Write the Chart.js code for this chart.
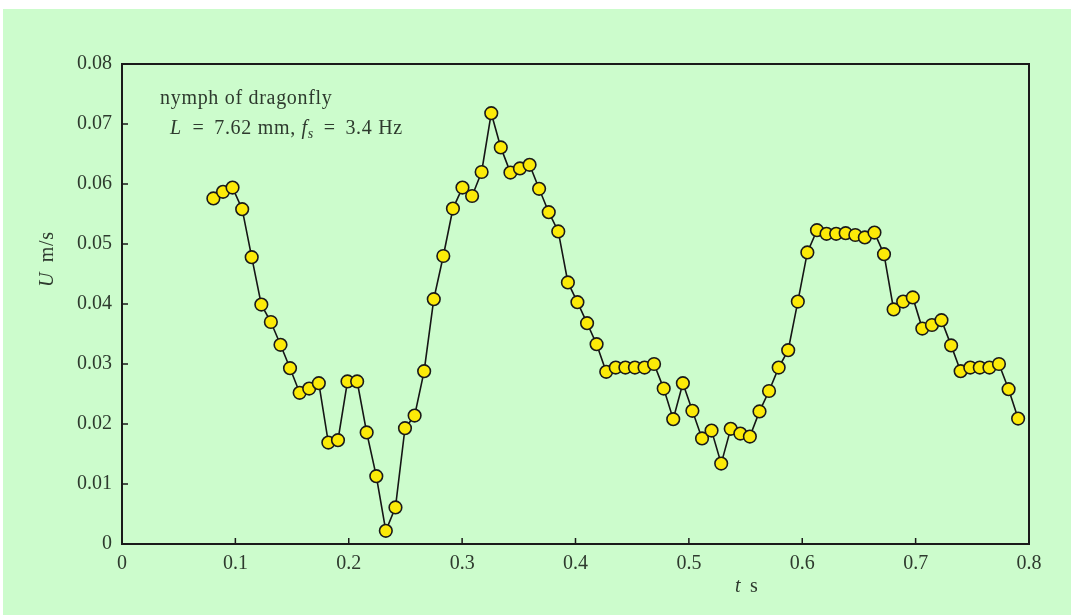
<!DOCTYPE html>
<html>
<head>
<meta charset="utf-8">
<script src="https://cdn.jsdelivr.net/npm/chart.js@4.4.1/dist/chart.umd.min.js"></script>
<style>
  html, body { margin: 0; padding: 0; background: #ffffff; }
  canvas { display: block; }
</style>
</head>
<body>
<canvas id="myChart" width="1071" height="615"></canvas>
<script>
// sample times (s)
const times = [
  0.0806, 0.0891, 0.0975, 0.1060, 0.1144, 0.1229, 0.1313, 0.1398, 0.1482, 0.1567,
  0.1651, 0.1736, 0.1820, 0.1905, 0.1989, 0.2074, 0.2158, 0.2243, 0.2327, 0.2412,
  0.2496, 0.2581, 0.2665, 0.2750, 0.2834, 0.2919, 0.3003, 0.3088, 0.3172, 0.3257,
  0.3341, 0.3426, 0.3510, 0.3595, 0.3679, 0.3764, 0.3848, 0.3933, 0.4017, 0.4102,
  0.4186, 0.4271, 0.4355, 0.4440, 0.4524, 0.4609, 0.4693, 0.4778, 0.4862, 0.4947,
  0.5031, 0.5116, 0.5200, 0.5285, 0.5369, 0.5454, 0.5538, 0.5623, 0.5707, 0.5792,
  0.5876, 0.5961, 0.6045, 0.6130, 0.6214, 0.6299, 0.6383, 0.6468, 0.6552, 0.6637,
  0.6721, 0.6806, 0.6890, 0.6975, 0.7059, 0.7144, 0.7228, 0.7313, 0.7397, 0.7482,
  0.7566, 0.7651, 0.7735, 0.7820, 0.7904
];

// swimming speed U (m/s)
const speed = [
  0.0576, 0.0587, 0.0594, 0.0558, 0.0478, 0.0399, 0.0370, 0.0332, 0.0293, 0.0252,
  0.0259, 0.0268, 0.0169, 0.0173, 0.0271, 0.0271, 0.0186, 0.0113, 0.0022, 0.0061,
  0.0193, 0.0214, 0.0288, 0.0408, 0.0480, 0.0559, 0.0594, 0.0580, 0.0620, 0.0718,
  0.0661, 0.0619, 0.0626, 0.0632, 0.0592, 0.0553, 0.0521, 0.0436, 0.0403, 0.0368,
  0.0333, 0.0287, 0.0294, 0.0294, 0.0294, 0.0294, 0.0300, 0.0259, 0.0208, 0.0268,
  0.0222, 0.0176, 0.0189, 0.0134, 0.0192, 0.0184, 0.0179, 0.0221, 0.0255, 0.0294,
  0.0323, 0.0404, 0.0486, 0.0523, 0.0517, 0.0517, 0.0518, 0.0515, 0.0511, 0.0519,
  0.0483, 0.0391, 0.0404, 0.0411, 0.0359, 0.0365, 0.0373, 0.0331, 0.0288, 0.0294,
  0.0294, 0.0294, 0.0300, 0.0258, 0.0209
];

const xTicks = [0, 0.1, 0.2, 0.3, 0.4, 0.5, 0.6, 0.7, 0.8];
const xTickLabels = ['0', '0.1', '0.2', '0.3', '0.4', '0.5', '0.6', '0.7', '0.8'];
const yTicks = [0, 0.01, 0.02, 0.03, 0.04, 0.05, 0.06, 0.07, 0.08];
const yTickLabels = ['0', '0.01', '0.02', '0.03', '0.04', '0.05', '0.06', '0.07', '0.08'];

const SERIF = '"Liberation Serif", "DejaVu Serif", serif';
const TEXT_COLOR = '#2e3a2e';

// draws a line of text made of pieces with their own style / offset
function drawRich(ctx, x, y, parts) {
  let cx = x;
  parts.forEach(p => {
    if (p.gap) { cx += p.gap; return; }
    ctx.font = p.font;
    ctx.fillText(p.text, cx, y + (p.dy || 0));
    cx += ctx.measureText(p.text).width;
  });
}

const framePlugin = {
  id: 'frame',
  beforeDraw(chart) {
    const ctx = chart.ctx;
    ctx.save();
    ctx.fillStyle = '#ffffff';
    ctx.fillRect(0, 0, chart.width, chart.height);
    ctx.fillStyle = '#ccfccc';
    ctx.fillRect(3, 9, chart.width - 3, chart.height - 9);
    ctx.restore();
  },
  beforeDatasetsDraw(chart) {
    const ctx = chart.ctx;
    const a = chart.chartArea;
    const xs = chart.scales.x;
    const ys = chart.scales.y;
    ctx.save();
    ctx.strokeStyle = '#1a1a1a';
    ctx.lineWidth = 2;
    ctx.strokeRect(a.left, a.top, a.right - a.left, a.bottom - a.top);

    // inward ticks
    ctx.lineWidth = 1.5;
    ctx.beginPath();
    xTicks.forEach(v => {
      const px = xs.getPixelForValue(v);
      ctx.moveTo(px, a.bottom);
      ctx.lineTo(px, a.bottom - 6);
    });
    yTicks.forEach(v => {
      const py = ys.getPixelForValue(v);
      ctx.moveTo(a.left, py);
      ctx.lineTo(a.left + 6, py);
    });
    ctx.stroke();

    // annotation
    const rm = '20px ' + SERIF;
    const it = 'italic 20px ' + SERIF;
    ctx.fillStyle = TEXT_COLOR;
    ctx.textBaseline = 'alphabetic';
    ctx.textAlign = 'left';
    ctx.letterSpacing = '0.7px';
    drawRich(ctx, a.left + 38, a.top + 40, [
      { text: 'nymph of dragonfly', font: rm }
    ]);
    drawRich(ctx, a.left + 48, a.top + 70, [
      { text: 'L', font: it },
      { gap: 5 },
      { text: ' = ', font: rm },
      { gap: 4 },
      { text: '7.62 mm, ', font: rm },
      { text: 'f', font: it },
      { text: 's', font: 'italic 14px ' + SERIF, dy: 4 },
      { gap: 4 },
      { text: ' = ', font: rm },
      { gap: 4 },
      { text: '3.4 Hz', font: rm }
    ]);

    // axis titles
    drawRich(ctx, 735, 592, [
      { text: 't', font: it },
      { gap: 3 },
      { text: ' s', font: rm }
    ]);
    ctx.translate(53, 287);
    ctx.rotate(-Math.PI / 2);
    drawRich(ctx, 0, 0, [
      { text: 'U', font: it },
      { gap: 4 },
      { text: ' m/s', font: rm }
    ]);
    ctx.letterSpacing = '0px';
    ctx.restore();
  }
};

const ctx = document.getElementById('myChart');

let chart = new Chart(ctx, {
  type: 'scatter',
  data: {
    datasets: [{
      label: 'U',
      data: times.map((t, i) => ({ x: t, y: speed[i] })),
      showLine: true,
      borderColor: '#151515',
      borderWidth: 1.6,
      tension: 0,
      pointRadius: 6.3,
      pointBackgroundColor: '#fcea08',
      pointBorderColor: '#1a1a1a',
      pointBorderWidth: 1.6,
      clip: false
    }]
  },
  options: {
    responsive: false,
    animation: false,
    devicePixelRatio: 1,
    layout: { padding: { top: 64, right: 42, left: 0, bottom: 0 } },
    plugins: {
      legend: { display: false },
      tooltip: { enabled: false }
    },
    scales: {
      x: {
        type: 'linear',
        min: 0,
        max: 0.8,
        grid: { display: false, drawTicks: false },
        border: { display: false },
        afterBuildTicks: s => { s.ticks = xTicks.map(v => ({ value: v })); },
        afterFit: s => { s.height = 71; },
        ticks: {
          padding: 8,
          color: TEXT_COLOR,
          font: { family: SERIF, size: 20 },
          maxRotation: 0,
          autoSkip: false,
          callback: (v, i) => xTickLabels[i]
        }
      },
      y: {
        type: 'linear',
        min: 0,
        max: 0.08,
        grid: { display: false, drawTicks: false },
        border: { display: false },
        afterBuildTicks: s => { s.ticks = yTicks.map(v => ({ value: v })); },
        afterFit: s => { s.width = 122; },
        ticks: {
          padding: 10,
          color: TEXT_COLOR,
          font: { family: SERIF, size: 20 },
          autoSkip: false,
          callback: (v, i) => yTickLabels[i]
        }
      }
    }
  },
  plugins: [framePlugin]
});
</script>
</body>
</html>
